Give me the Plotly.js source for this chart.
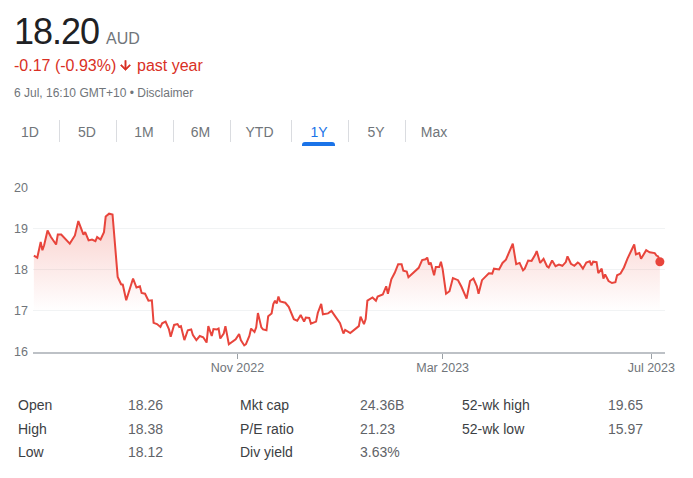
<!DOCTYPE html>
<html>
<head>
<meta charset="utf-8">
<script src="https://cdn.plot.ly/plotly-3.0.1.min.js"></script>
<style>
  html, body { margin:0; padding:0; background:#fff; }
  #wrap { position:relative; width:693px; height:478px; overflow:hidden; font-family:"Liberation Sans", Arial, sans-serif; }
  #chart { position:absolute; left:0; top:0; width:693px; height:478px; }
  .t { position:absolute; white-space:nowrap; line-height:1; }
</style>
</head>
<body>
<div id="wrap">
  <div id="chart"></div>
</div>
<script>
// ---------- data ----------
const dates = [
'2022-07-05','2022-07-07','2022-07-09','2022-07-10','2022-07-11','2022-07-13','2022-07-15','2022-07-18','2022-07-19','2022-07-21',
'2022-07-26','2022-07-29','2022-07-31','2022-08-03','2022-08-04','2022-08-06','2022-08-08','2022-08-10','2022-08-11','2022-08-13',
'2022-08-15','2022-08-16','2022-08-18','2022-08-20','2022-08-23','2022-08-25','2022-08-26','2022-08-28','2022-09-01','2022-09-03',
'2022-09-05','2022-09-06','2022-09-08','2022-09-10','2022-09-12','2022-09-13','2022-09-15','2022-09-17','2022-09-18','2022-09-20',
'2022-09-22','2022-09-23','2022-09-25','2022-09-27','2022-09-28','2022-09-29','2022-10-01','2022-10-03','2022-10-05','2022-10-06',
'2022-10-08','2022-10-10','2022-10-12','2022-10-14','2022-10-15','2022-10-17','2022-10-18','2022-10-20','2022-10-21','2022-10-22',
'2022-10-24','2022-10-25','2022-10-27','2022-10-29','2022-10-31','2022-11-02','2022-11-03','2022-11-05','2022-11-06','2022-11-08',
'2022-11-09','2022-11-11','2022-11-12','2022-11-13','2022-11-15','2022-11-16','2022-11-18','2022-11-19','2022-11-21','2022-11-22',
'2022-11-23','2022-11-24','2022-11-25','2022-11-26','2022-11-29','2022-12-01','2022-12-04','2022-12-06','2022-12-08','2022-12-10',
'2022-12-11','2022-12-13','2022-12-14','2022-12-17','2022-12-18','2022-12-20','2022-12-21','2022-12-24','2022-12-26','2022-12-28',
'2022-12-31','2023-01-02','2023-01-03','2023-01-06','2023-01-09','2023-01-11','2023-01-12','2023-01-14','2023-01-15','2023-01-16',
'2023-01-19','2023-01-21','2023-01-22','2023-01-25','2023-01-27','2023-01-28','2023-01-30','2023-02-01','2023-02-03','2023-02-05',
'2023-02-06','2023-02-08','2023-02-09','2023-02-12','2023-02-15','2023-02-17','2023-02-19','2023-02-20','2023-02-21','2023-02-22',
'2023-02-24','2023-02-25','2023-02-27','2023-02-28','2023-03-01','2023-03-03','2023-03-05','2023-03-07','2023-03-10','2023-03-12',
'2023-03-15','2023-03-17','2023-03-19','2023-03-21','2023-03-22','2023-03-24','2023-03-26','2023-03-28','2023-03-30','2023-03-31',
'2023-04-03','2023-04-05','2023-04-07','2023-04-09','2023-04-11','2023-04-13','2023-04-15','2023-04-17','2023-04-18','2023-04-20',
'2023-04-22','2023-04-24','2023-04-25','2023-04-27','2023-04-29','2023-05-01','2023-05-02','2023-05-04','2023-05-06','2023-05-08',
'2023-05-10','2023-05-12','2023-05-13','2023-05-15','2023-05-17','2023-05-19','2023-05-20','2023-05-22','2023-05-24','2023-05-26',
'2023-05-27','2023-05-28','2023-05-30','2023-05-31','2023-06-02','2023-06-03','2023-06-04','2023-06-06','2023-06-08','2023-06-10',
'2023-06-11','2023-06-13','2023-06-15','2023-06-17','2023-06-19','2023-06-21','2023-06-22','2023-06-24','2023-06-25','2023-06-27',
'2023-06-28','2023-06-30','2023-07-03','2023-07-04','2023-07-05','2023-07-06'
];
const prices = [
18.35,18.30,18.68,18.48,18.60,18.96,18.80,18.62,18.86,18.86,
18.64,18.84,19.19,18.86,18.92,18.72,18.74,18.70,18.80,18.74,
18.92,19.30,19.37,19.35,17.83,17.65,17.64,17.26,17.79,17.57,
17.60,17.44,17.42,17.25,17.26,16.71,16.68,16.61,16.70,16.74,
16.55,16.37,16.66,16.68,16.61,16.63,16.29,16.53,16.55,16.41,
16.29,16.39,16.36,16.23,16.63,16.39,16.56,16.55,16.57,16.33,
16.45,16.63,16.19,16.25,16.31,16.44,16.29,16.16,16.19,16.39,
16.57,16.49,16.60,16.95,16.60,16.55,16.53,16.87,16.94,17.17,
17.25,17.18,17.35,17.23,17.20,17.10,16.80,16.76,16.90,16.74,
16.84,16.83,16.69,16.74,16.95,17.17,16.92,16.94,17.00,16.88,
16.70,16.45,16.54,16.46,16.56,16.63,16.86,16.68,16.80,17.25,
17.33,17.25,17.35,17.40,17.60,17.42,17.77,17.93,18.14,18.14,
17.98,17.96,17.82,17.94,18.05,18.24,18.26,18.30,18.13,18.18,
17.87,18.07,18.07,18.20,18.02,17.42,17.48,17.80,17.75,17.59,
17.30,17.73,17.79,17.60,17.42,17.75,17.83,17.92,17.91,18.03,
18.01,18.17,18.25,18.43,18.64,18.14,18.17,17.99,18.03,18.23,
18.22,18.36,18.46,18.17,18.27,18.09,18.06,18.23,18.09,18.13,
18.10,18.19,18.33,18.15,18.10,18.18,18.15,18.03,18.18,18.21,
18.11,18.20,18.19,17.92,18.03,17.79,17.89,17.73,17.68,17.70,
17.87,17.91,18.06,18.27,18.46,18.62,18.38,18.41,18.27,18.41,
18.48,18.43,18.41,18.35,18.33,18.20
];
const yTicks = [16, 17, 18, 19, 20];
const xTickDates = ['2022-11-01', '2023-03-01', '2023-07-01'];
const xTickLabels = ['Nov 2022', 'Mar 2023', 'Jul 2023'];

const priceText = '18.20';
const currency = 'AUD';
const changeText = '-0.17 (-0.93%)';
const periodText = 'past year';
const stampText = '6 Jul, 16:10 GMT+10 \u2022 Disclaimer';
const tabs = ['1D', '5D', '1M', '6M', 'YTD', '1Y', '5Y', 'Max'];
const activeTab = '1Y';
const statLabels = [['Open', 'High', 'Low'], ['Mkt cap', 'P/E ratio', 'Div yield'], ['52-wk high', '52-wk low']];
const statValues = [['18.26', '18.38', '18.12'], ['24.36B', '21.23', '3.63%'], ['19.65', '15.97']];

// ---------- styles / positions ----------
const FONT = '"Liberation Sans", Arial, sans-serif';
const LINE = '#e8453c';
const RED_TEXT = '#d93025';
const GREY = '#70757a';

const wrap = document.getElementById('wrap');
function addText(txt, left, top, size, color, extra) {
  const d = document.createElement('div');
  d.className = 't';
  d.textContent = txt;
  d.style.left = left + 'px';
  d.style.top = top + 'px';
  d.style.fontSize = size + 'px';
  d.style.color = color;
  if (extra) Object.assign(d.style, extra);
  wrap.appendChild(d);
  return d;
}
function addBox(left, top, w, h, color, extra) {
  const d = document.createElement('div');
  d.style.position = 'absolute';
  d.style.left = left + 'px'; d.style.top = top + 'px';
  d.style.width = w + 'px'; d.style.height = h + 'px';
  d.style.background = color;
  if (extra) Object.assign(d.style, extra);
  wrap.appendChild(d);
}

// header
addText(priceText, 14, 14, 36, '#202124', {letterSpacing: '-1px'});
addText(currency, 106, 31, 16, GREY);
addText(changeText, 14, 57.5, 16, RED_TEXT);
const arrow = document.createElement('div');
arrow.style.cssText = 'position:absolute;left:118px;top:58px;width:15px;height:15px;';
arrow.innerHTML = '<svg width="15" height="15" viewBox="0 0 24 24"><path fill="' + RED_TEXT + '" d="M20 12l-1.41-1.41L13 16.17V4h-2v12.17l-5.58-5.59L4 12l8 8 8-8z" stroke="' + RED_TEXT + '" stroke-width="1"/></svg>';
wrap.appendChild(arrow);
addText(periodText, 137, 57.5, 16, RED_TEXT);
addText(stampText, 14, 87, 12, GREY);

// tabs
const tabCenters = [30, 87, 144, 200.5, 259.5, 319, 376, 434];
const sepX = [58.5, 115.5, 172.5, 229.5, 290.5, 347.5, 404.5];
tabs.forEach((t, i) => {
  addText(t, tabCenters[i] - 30, 125, 14, t === activeTab ? '#1a73e8' : GREY, {width: '60px', textAlign: 'center'});
});
sepX.forEach(x => addBox(x, 120, 1, 22, '#dadce0'));
addBox(302, 142, 33, 3.5, '#1a73e8', {borderRadius: '3px 3px 0 0'});

// stats
const labelX = [18, 240, 462];
const valueX = [128, 360, 608];
const rowTop = [398, 421.5, 445];
statLabels.forEach((col, c) => {
  col.forEach((lab, r) => {
    addText(lab, labelX[c], rowTop[r], 14, '#3c4043');
    addText(statValues[c][r], valueX[c], rowTop[r], 14, '#5f6368');
  });
});

// ---------- chart ----------
const last = prices.length - 1;
const traces = [
  {
    x: dates, y: prices, type: 'scatter', mode: 'lines',
    line: {color: LINE, width: 2},
    fill: 'tozeroy',
    fillgradient: {type: 'vertical', start: 17, stop: 19.4,
      colorscale: [[0, 'rgba(234,67,53,0)'], [1, 'rgba(234,67,53,0.26)']]},
    hoverinfo: 'skip'
  },
  {
    x: [dates[last]], y: [prices[last]], type: 'scatter', mode: 'markers',
    marker: {size: 9, color: LINE}, hoverinfo: 'skip'
  }
];
const layout = {
  width: 693, height: 478,
  margin: {l: 33, r: 28, t: 187, b: 126, pad: 0},
  paper_bgcolor: 'rgba(0,0,0,0)', plot_bgcolor: 'rgba(0,0,0,0)',
  showlegend: false,
  font: {family: FONT, color: GREY, size: 12},
  xaxis: {
    type: 'date', range: ['2022-07-04 12:00', '2023-07-09'],
    tickmode: 'array', tickvals: xTickDates, ticktext: xTickLabels,
    showgrid: false, zeroline: false,
    showline: true, linecolor: '#bdc1c6', linewidth: 2,
    ticks: 'outside', ticklen: 5, tickwidth: 1, tickcolor: '#9aa0a6',
    ticklabelstandoff: -2,
    tickfont: {family: FONT, size: 12.5, color: GREY}
  },
  yaxis: {
    range: [16, 20.02], tickmode: 'array', tickvals: yTicks,
    showgrid: true, gridcolor: '#f1f3f4', gridwidth: 1,
    zeroline: false, showline: false, ticks: '',
    ticklabelstandoff: 4,
    tickfont: {family: FONT, size: 12.5, color: GREY}
  }
};
Plotly.newPlot('chart', traces, layout, {staticPlot: true, displayModeBar: false});
</script>
</body>
</html>
